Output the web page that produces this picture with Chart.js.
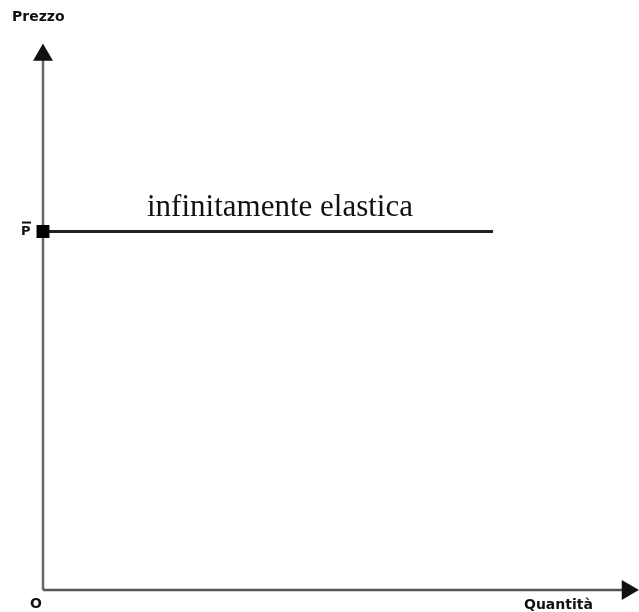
<!DOCTYPE html>
<html lang="it">
<head>
    <meta charset="UTF-8">
    <title>Domanda infinitamente elastica</title>
    <script src="https://cdn.jsdelivr.net/npm/chart.js"></script>
    <style>
        html, body { margin: 0; padding: 0; background: #fff; }
        .chart-container { width: 639px; height: 612px; }
    </style>
</head>
<body>
    <div class="chart-container">
        <canvas id="myChart"></canvas>
    </div>

    <script>
        // demand curve: horizontal at price P-bar
        const quantities = [0, 77];
        const prices = [67, 67];
        const axisMax = 100;
        const curveLabel = 'infinitamente elastica';
        const yTitle = 'Prezzo';
        const xTitle = 'Quantità';
        const originLabel = 'O';
        const priceLabel = 'P';

        const labelsPlugin = {
            id: 'labels',
            afterDatasetsDraw(chart) {
                const ctx = chart.ctx;
                const y = chart.scales.y;
                const py = y.getPixelForValue(prices[0]);
                ctx.save();
                ctx.fillStyle = '#111';
                ctx.textBaseline = 'middle';
                ctx.font = 'bold 14px "DejaVu Sans"';
                ctx.textAlign = 'left';
                ctx.fillText(yTitle, 12, 17);
                ctx.fillText(xTitle, 524, 605);
                ctx.fillText(originLabel, 30, 604);
                ctx.font = 'bold 13px "DejaVu Sans"';
                ctx.fillText(priceLabel, 21, py);
                ctx.fillRect(22, py - 10, 9, 2);
                ctx.font = '31px "Liberation Serif"';
                ctx.textBaseline = 'alphabetic';
                ctx.fillText(curveLabel, 147, 216);
                ctx.restore();
            }
        };

        document.addEventListener('DOMContentLoaded', function() {
            const ctx = document.getElementById('myChart').getContext('2d');
            window.myChart = new Chart(ctx, {
                type: 'scatter',
                data: {
                    datasets: [
                        {
                            label: 'asse y',
                            order: 2,
                            data: [{x: 0, y: 0}, {x: 0, y: axisMax}],
                            showLine: true,
                            clip: false,
                            borderColor: '#666',
                            borderWidth: 2.5,
                            pointRadius: [0, 9],
                            pointStyle: 'triangle',
                            pointBackgroundColor: '#111',
                            pointBorderColor: '#111'
                        },
                        {
                            label: 'asse x',
                            order: 1,
                            data: [{x: 0, y: 0}, {x: axisMax, y: 0}],
                            showLine: true,
                            clip: false,
                            borderColor: '#555',
                            borderWidth: 2.5,
                            pointRadius: [0, 9],
                            pointStyle: 'triangle',
                            rotation: 90,
                            pointBackgroundColor: '#111',
                            pointBorderColor: '#111'
                        },
                        {
                            label: 'domanda',
                            order: 0,
                            data: quantities.map((q, i) => ({x: q, y: prices[i]})),
                            showLine: true,
                            clip: false,
                            borderColor: '#222',
                            borderWidth: 3,
                            pointRadius: [7, 0],
                            pointStyle: 'rect',
                            pointBackgroundColor: '#000',
                            pointBorderColor: '#000'
                        }
                    ]
                },
                options: {
                    responsive: true,
                    maintainAspectRatio: false,
                    animation: false,
                    layout: {
                        padding: { left: 43, right: 7, top: 55, bottom: 22 }
                    },
                    scales: {
                        x: { type: 'linear', min: 0, max: axisMax, display: false },
                        y: { type: 'linear', min: 0, max: axisMax, display: false }
                    },
                    plugins: {
                        legend: { display: false },
                        tooltip: { enabled: false }
                    }
                },
                plugins: [labelsPlugin]
            });
        });
    </script>
</body>
</html>
